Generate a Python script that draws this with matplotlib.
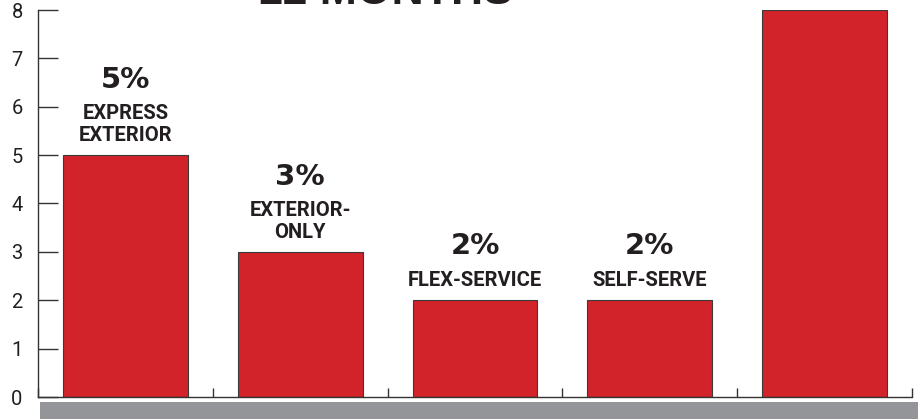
import matplotlib.pyplot as plt
from matplotlib.patches import Rectangle

categories = ["EXPRESS\nEXTERIOR", "EXTERIOR-\nONLY", "FLEX-SERVICE", "SELF-SERVE", ""]
values = [5, 3, 2, 2, 8]
pct_labels = ["5%", "3%", "2%", "2%", ""]
yticks = [0, 1, 2, 3, 4, 5, 6, 7, 8]

red = "#D2232A"
ink = "#231F20"
narrow = ["Roboto", "DejaVu Sans"]

fig = plt.figure(figsize=(9.21, 4.19), dpi=100)
ax = fig.add_axes([38 / 921, 22 / 419, 874 / 921, 387 / 419])

x = range(len(values))
ax.bar(x, values, width=0.714, color=red, edgecolor="#3a3a3a", linewidth=0.8, zorder=2)

ax.set_xlim(-0.5, len(values) - 0.5)
ax.set_ylim(0, 8)
ax.set_yticks(yticks)
ax.set_yticklabels([str(t) for t in yticks], family=narrow, fontsize=14.5, color=ink)
ax.set_xticks([i - 0.5 for i in range(len(values) + 1)])
ax.set_xticklabels([])

ax.tick_params(axis="y", direction="in", length=14.5, width=1, color="#333333", pad=11)
ax.tick_params(axis="x", direction="in", length=6.5, width=1, color="#333333")
for side in ("top", "right"):
    ax.spines[side].set_visible(False)
for side in ("left", "bottom"):
    ax.spines[side].set_color("#333333")
    ax.spines[side].set_linewidth(1)

# value and name labels stacked above each bar
for i, (v, name, pct) in enumerate(zip(values, categories, pct_labels)):
    if not pct:
        continue
    lines = name.split("\n")
    for k, line in enumerate(reversed(lines)):
        ax.annotate(line, (i, v), xytext=(0, 14 + 22 * k), textcoords="offset pixels",
                    ha="center", va="baseline", family=narrow, fontweight="bold",
                    fontsize=14.5, color=ink)
    ax.annotate(pct, (i, v), xytext=(0, 25 + 21 * len(lines)), textcoords="offset pixels",
                ha="center", va="baseline", family="DejaVu Sans", fontweight="bold",
                fontsize=21, color=ink)

# title sits partly above the canvas
fig.text(385 / 921, 1 - 4 / 419, "12 MONTHS", ha="center", va="baseline",
         family="Liberation Sans", fontweight="bold", fontsize=32, color=ink)

# grey base strip under the axis
fig.patches.append(Rectangle((40 / 921, 0), 878 / 921, 17 / 419, transform=fig.transFigure,
                             facecolor="#939598", edgecolor="none"))

fig.savefig("out.png", dpi=100)
